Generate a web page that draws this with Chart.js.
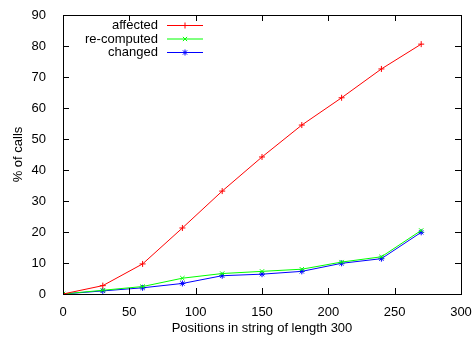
<!DOCTYPE html>
<html>
<head>
<meta charset="utf-8">
<script src="https://cdn.jsdelivr.net/npm/chart.js@4.4.0/dist/chart.umd.min.js"></script>
<style>
  body { margin: 0; background: #fff; }
  #wrap { width: 472px; height: 337px; }
</style>
</head>
<body>
<div id="wrap"><canvas id="myChart"></canvas></div>
<script>
// positions in the string
const positions = [0, 30, 60, 90, 120, 150, 180, 210, 240, 270];
// % of calls
const affected = [0, 2.7, 9.7, 21.3, 33.2, 44.2, 54.5, 63.3, 72.6, 80.6];
const recomputed = [0, 1.2, 2.4, 5.1, 6.6, 7.3, 8.0, 10.3, 12.0, 20.5];
const changed = [0, 1.0, 2.0, 3.4, 5.9, 6.4, 7.3, 9.9, 11.4, 19.9];

const xTicks = [0, 50, 100, 150, 200, 250, 300];
const yTicks = [0, 10, 20, 30, 40, 50, 60, 70, 80, 90];

const FONT = "'Liberation Sans', Arial, sans-serif";

function toPoints(values) {
    return positions.map((p, i) => ({ x: p, y: values[i] }));
}

// gnuplot style frame with inward ticks on every side, and the key
const framePlugin = {
    id: 'frame',
    afterDraw(chart) {
        const ctx = chart.ctx;
        const a = chart.chartArea;
        const xs = chart.scales.x;
        const ys = chart.scales.y;
        ctx.save();
        ctx.strokeStyle = '#000';
        ctx.lineWidth = 1;
        ctx.beginPath();
        xTicks.forEach(t => {
            const px = Math.round(xs.getPixelForValue(t)) + 0.5;
            ctx.moveTo(px, a.bottom); ctx.lineTo(px, a.bottom - 6);
            ctx.moveTo(px, a.top); ctx.lineTo(px, a.top + 6);
        });
        yTicks.forEach(t => {
            const py = Math.round(ys.getPixelForValue(t)) + 0.5;
            ctx.moveTo(a.left, py); ctx.lineTo(a.left + 6, py);
            ctx.moveTo(a.right, py); ctx.lineTo(a.right - 6, py);
        });
        ctx.stroke();
        ctx.strokeRect(Math.round(a.left) + 0.5, Math.round(a.top) + 0.5,
            Math.round(a.right - a.left), Math.round(a.bottom - a.top));

        // key
        ctx.font = '13px ' + FONT;
        ctx.textAlign = 'right';
        ctx.textBaseline = 'middle';
        chart.data.datasets.forEach((ds, i) => {
            const y = 25.5 + i * 13.5;
            ctx.fillStyle = '#000';
            ctx.fillText(ds.label, 158, y);
            ctx.strokeStyle = ds.borderColor;
            ctx.beginPath();
            ctx.moveTo(167, y); ctx.lineTo(203, y);
            ctx.stroke();
            Chart.helpers.drawPoint(ctx, {
                pointStyle: ds.pointStyle, radius: 3, borderWidth: 1
            }, 185, y);
        });
        ctx.restore();
    }
};

const ctx = document.getElementById('myChart');

new Chart(ctx, {
    type: 'line',
    data: {
        datasets: [{
            label: 'affected',
            data: toPoints(affected),
            borderColor: '#ff0000',
            pointStyle: 'cross',
            borderWidth: 1
        }, {
            label: 're-computed',
            data: toPoints(recomputed),
            borderColor: '#00ff00',
            pointStyle: 'crossRot',
            borderWidth: 1
        }, {
            label: 'changed',
            data: toPoints(changed),
            borderColor: '#0000ff',
            pointStyle: 'star',
            borderWidth: 1
        }]
    },
    options: {
        responsive: true,
        maintainAspectRatio: false,
        animation: false,
        layout: { padding: { top: 15, right: 11, left: 0, bottom: 0 } },
        elements: {
            point: { radius: 3, borderWidth: 1, backgroundColor: 'transparent', hoverRadius: 3 },
            line: { tension: 0, fill: false }
        },
        plugins: {
            legend: { display: false },
            tooltip: { enabled: false }
        },
        scales: {
            x: {
                type: 'linear',
                min: 0,
                max: 300,
                grid: { display: false },
                border: { display: false },
                afterBuildTicks: s => { s.ticks = xTicks.map(v => ({ value: v })); },
                afterFit: s => { s.height = 43; s.paddingRight = 0; s.paddingLeft = 0; },
                ticks: {
                    color: '#000', font: { family: FONT, size: 13 },
                    padding: 3, maxRotation: 0, autoSkip: false
                },
                title: {
                    display: true, text: 'Positions in string of length 300',
                    color: '#000', font: { family: FONT, size: 13 },
                    padding: { top: 0, bottom: 1 }
                }
            },
            y: {
                min: 0,
                max: 90,
                grid: { display: false },
                border: { display: false },
                afterBuildTicks: s => { s.ticks = yTicks.map(v => ({ value: v })); },
                afterFit: s => { s.width = 63; s.paddingTop = 0; s.paddingBottom = 0; },
                ticks: {
                    color: '#000', font: { family: FONT, size: 13 },
                    padding: 9, autoSkip: false
                },
                title: {
                    display: true, text: '% of calls',
                    color: '#000', font: { family: FONT, size: 13 },
                    padding: { top: 11, bottom: 0 }
                }
            }
        }
    },
    plugins: [framePlugin]
});
</script>
</body>
</html>
